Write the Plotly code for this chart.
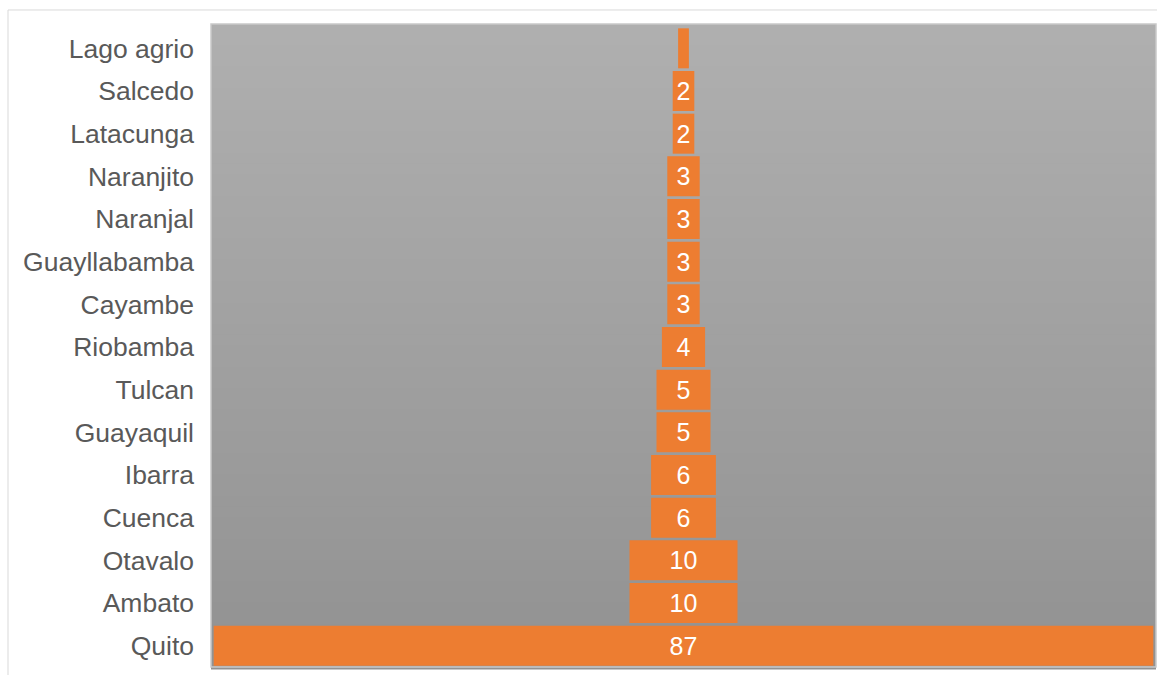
import plotly.graph_objects as go

cities = ["Lago agrio", "Salcedo", "Latacunga", "Naranjito", "Naranjal", "Guayllabamba",
          "Cayambe", "Riobamba", "Tulcan", "Guayaquil", "Ibarra", "Cuenca", "Otavalo",
          "Ambato", "Quito"]
values = [1, 2, 2, 3, 3, 3, 3, 4, 5, 5, 6, 6, 10, 10, 87]
labels = ["", "2", "2", "3", "3", "3", "3", "4", "5", "5", "6", "6", "10", "10", "87"]

fig = go.Figure()
fig.add_trace(go.Funnel(
    y=cities, x=values, orientation="h",
    text=labels, textinfo="text", textposition="inside",
    constraintext="none",
    insidetextfont=dict(color="white", size=25, family="Arial, Liberation Sans"),
    marker=dict(color="#ED7D31", line=dict(width=0)),
    connector=dict(visible=False),
    hoverinfo="y+x",
))

# vertical gradient background of plot area
n = 60
top = (175, 175, 175)
bot = (146, 146, 146)
ytop = 1.0047
shapes = []
for i in range(n):
    t = i / (n - 1)
    c = tuple(round(top[k] + (bot[k] - top[k]) * t) for k in range(3))
    y1 = ytop - i * ytop / n
    y0 = ytop - (i + 1) * ytop / n
    shapes.append(dict(type="rect", xref="paper", yref="paper",
                       x0=0, x1=1, y0=y0 - 0.004, y1=y1,
                       fillcolor="rgb(%d,%d,%d)" % c, line=dict(width=0), layer="below"))
# plot area border
shapes.append(dict(type="rect", xref="paper", yref="paper", x0=0, x1=1, y0=0, y1=ytop,
                   line=dict(color="#c9c9c9", width=1.5), fillcolor="rgba(0,0,0,0)", layer="above"))
# outer chart border (top and left)
shapes.append(dict(type="path", xref="paper", yref="paper",
                   path="M -0.2148,-0.2 L -0.2148,1.0266 L 1.2,1.0266",
                   line=dict(color="#d9d9d9", width=1), layer="above"))

fig.update_layout(
    width=1157, height=675,
    margin=dict(l=211, r=1, t=27, b=8),
    paper_bgcolor="white", plot_bgcolor="rgba(0,0,0,0)",
    showlegend=False,
    funnelgap=0.0625,
    shapes=shapes,
    font=dict(family="Arial, Liberation Sans", color="#595959", size=26.5),
    xaxis=dict(visible=False, range=[-43.75, 43.75], showgrid=False, zeroline=False),
    yaxis=dict(tickfont=dict(size=26.5, color="#595959"), ticks="", ticklabelstandoff=16,
               showgrid=False, zeroline=False),
)

fig.write_html("out.html")
